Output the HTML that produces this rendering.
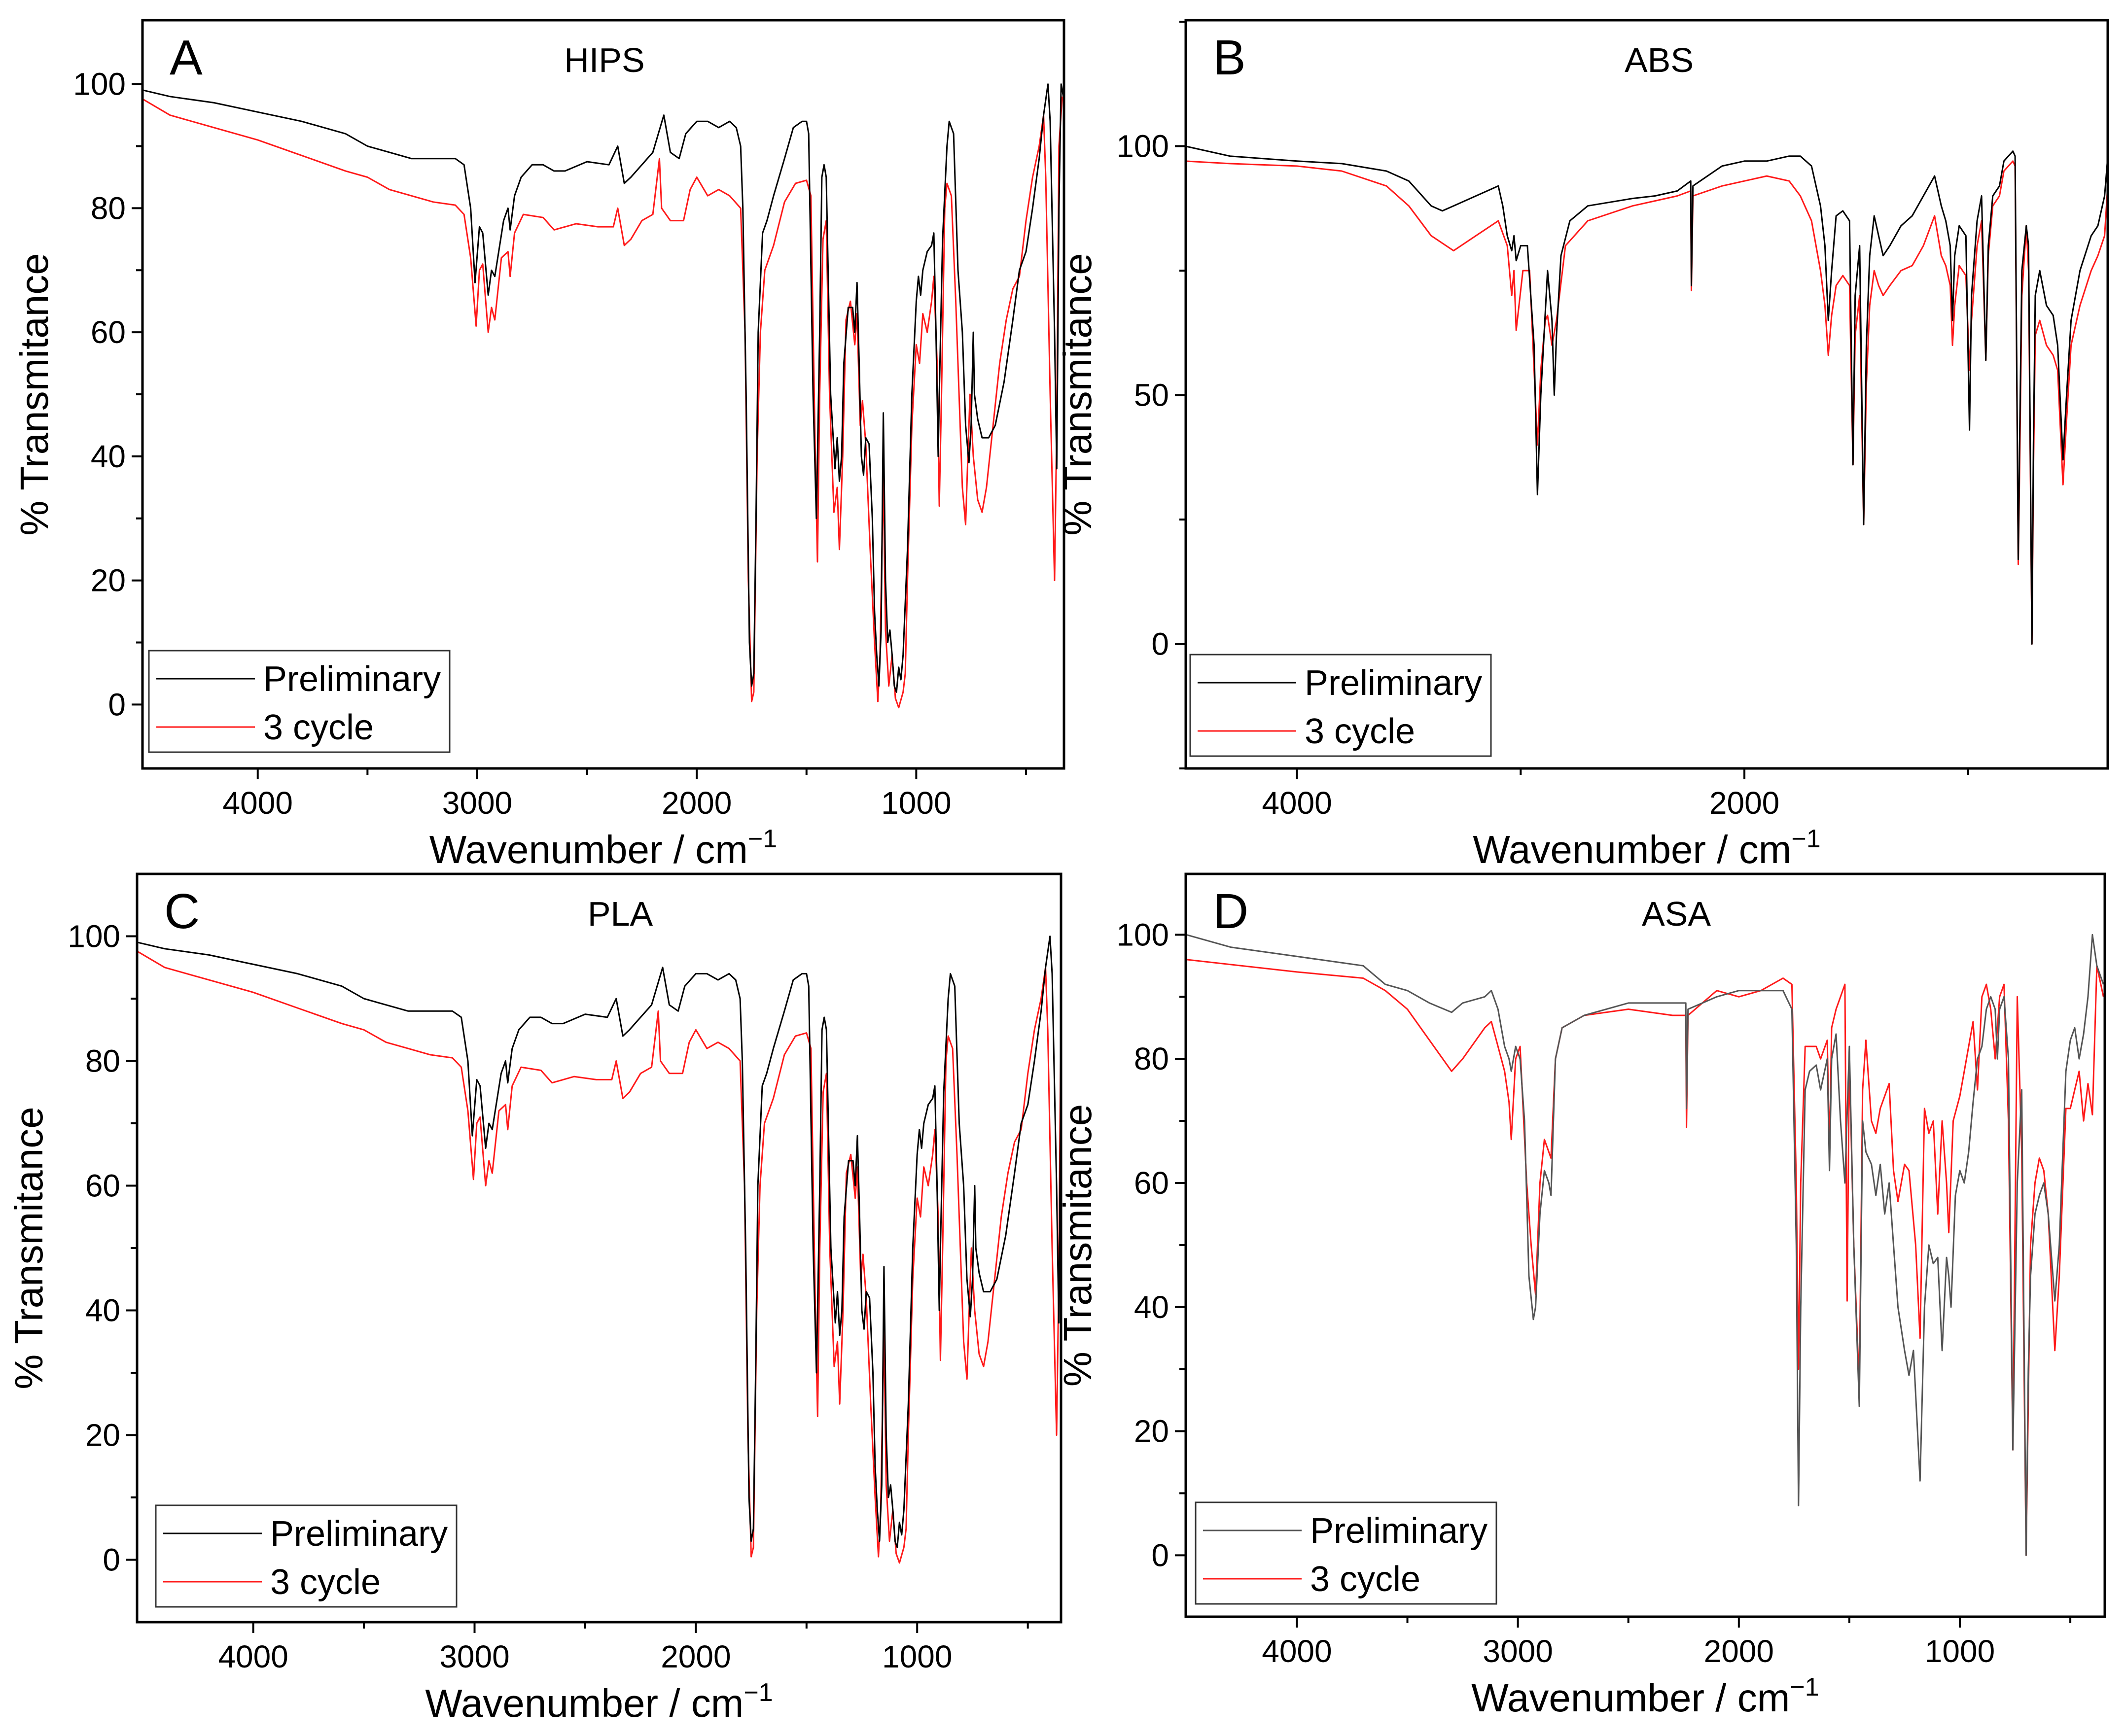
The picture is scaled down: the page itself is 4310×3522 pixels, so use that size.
<!DOCTYPE html>
<html><head><meta charset="utf-8"><style>
html,body{margin:0;padding:0;background:#fff}
svg{display:block}
text{font-family:"Liberation Sans",sans-serif;fill:#000}
</style></head><body>
<svg id="fig" width="4310" height="3522" viewBox="0 0 4310 3522" xmlns="http://www.w3.org/2000/svg"></svg>
<script>
// ---- data: [wavenumber, %T] ----
const hipsPrelim=[[4520,99],[4400,98],[4200,97],[4000,95.5],[3800,94],[3600,92],[3500,90],[3400,89],[3300,88],[3200,88],[3100,88],[3060,87],[3030,80],[3010,68],[2990,77],[2975,76],[2950,66],[2935,70],[2920,69],[2880,78],[2860,80],[2850,76.5],[2830,82],[2800,85],[2750,87],[2700,87],[2650,86],[2600,86],[2500,87.5],[2400,87],[2360,90],[2330,84],[2300,85],[2250,87],[2200,89],[2150,95],[2120,89],[2080,88],[2050,92],[2000,94],[1950,94],[1900,93],[1850,94],[1820,93],[1800,90],[1790,80],[1775,50],[1760,10],[1750,3],[1740,5],[1730,30],[1720,60],[1700,76],[1680,78],[1650,82],[1600,88],[1560,93],[1520,94],[1500,94],[1490,92],[1470,50],[1455,30],[1440,60],[1430,85],[1420,87],[1410,85],[1390,50],[1380,44],[1370,38],[1360,43],[1350,36],[1340,40],[1330,55],[1310,64],[1290,64],[1280,60],[1270,68],[1260,55],[1250,40],[1240,37],[1230,43],[1215,42],[1200,30],[1190,15],[1180,8],[1170,3],[1160,12],[1150,47],[1140,20],[1130,10],[1120,12],[1110,8],[1100,3],[1090,2],[1080,6],[1070,4],[1060,8],[1040,25],[1020,50],[1000,65],[990,69],[980,66],[970,70],[950,73],[930,74],[920,76],[910,60],[900,40],[895,50],[880,75],[860,90],[850,94],[830,92],[810,70],[790,60],[775,45],[760,39],[750,45],[740,60],[735,50],[720,46],[700,43],[670,43],[640,45],[600,52],[560,62],[530,70],[500,73],[470,80],[440,88],[420,95],[400,100],[390,94],[370,60],[360,38],[350,80],[340,100],[330,98]];
const hipsCycle=[[4520,97.5],[4400,95],[4200,93],[4000,91],[3800,88.5],[3600,86],[3500,85],[3400,83],[3300,82],[3200,81],[3100,80.5],[3060,79],[3030,72],[3005,61],[2990,70],[2975,71],[2950,60],[2935,64],[2920,62],[2890,72],[2860,73],[2850,69],[2830,76],[2790,79],[2700,78.5],[2650,76.5],[2550,77.5],[2450,77],[2380,77],[2360,80],[2330,74],[2300,75],[2250,78],[2200,79],[2170,88],[2160,80],[2120,78],[2060,78],[2030,83],[2000,85],[1950,82],[1900,83],[1850,82],[1800,80],[1780,60],[1765,20],[1750,0.5],[1740,2],[1725,40],[1710,60],[1690,70],[1650,74],[1600,81],[1550,84],[1500,84.5],[1480,82],[1460,40],[1450,23],[1440,50],[1425,75],[1410,78],[1395,50],[1375,31],[1360,35],[1350,25],[1335,40],[1320,62],[1300,65],[1280,58],[1270,63],[1255,45],[1245,49],[1230,42],[1210,25],[1190,10],[1175,0.5],[1165,8],[1150,37],[1140,12],[1125,3],[1110,8],[1095,1],[1080,-0.5],[1060,2],[1050,5],[1040,20],[1020,45],[1000,58],[985,55],[970,63],[950,60],[930,65],[920,69],[905,55],[895,32],[885,50],[870,80],[860,84],[840,82],[820,65],[800,45],[790,35],[775,29],[765,40],[755,50],[740,40],[720,33],[700,31],[680,35],[650,45],[620,55],[590,62],[560,67],[530,69],[500,78],[470,85],[440,90],[420,95],[410,85],[390,50],[370,20],[360,45],[350,90],[335,98]];
const absPrelim=[[4500,100],[4300,98],[4000,97],[3800,96.5],[3600,95],[3500,93],[3400,88],[3350,87],[3300,88],[3200,90],[3100,92],[3080,88],[3060,82],[3040,79],[3030,82],[3020,77],[3000,80],[2970,80],[2940,60],[2925,30],[2910,50],[2880,75],[2860,65],[2850,50],[2840,62],[2820,78],[2780,85],[2700,88],[2500,89.5],[2400,90],[2300,91],[2240,93],[2237,72],[2230,92],[2100,96],[2000,97],[1900,97],[1800,98],[1750,98],[1700,96],[1660,88],[1640,80],[1625,65],[1610,75],[1590,86],[1560,87],[1530,85],[1515,36],[1505,70],[1485,80],[1467,24],[1455,60],[1440,78],[1420,86],[1400,82],[1380,78],[1350,80],[1300,84],[1250,86],[1200,90],[1150,94],[1120,88],[1100,85],[1080,80],[1070,65],[1060,78],[1040,84],[1010,82],[994,43],[985,70],[960,85],[940,90],[921,57],[910,80],[890,90],[860,92],[840,97],[800,99],[790,98],[776,17],[770,40],[760,75],[740,84],[730,80],[715,0],[708,40],[700,70],[680,75],[650,68],[620,66],[600,60],[576,37],[560,50],[540,65],[500,75],[450,82],[420,84],[390,90],[372,100]];
const absCycle=[[4500,97],[4300,96.5],[4000,96],[3800,95],[3600,92],[3500,88],[3400,82],[3300,79],[3200,82],[3100,85],[3060,80],[3040,70],[3030,75],[3020,63],[2990,75],[2960,75],[2940,55],[2925,40],[2910,55],[2890,65],[2880,66],[2860,60],[2840,65],[2800,80],[2700,85],[2500,88],[2400,89],[2300,90],[2240,91],[2237,71],[2230,90],[2100,92],[2000,93],[1900,94],[1800,93],[1750,90],[1700,85],[1660,75],[1640,68],[1625,58],[1610,66],[1590,72],[1560,74],[1530,72],[1515,36],[1505,62],[1485,70],[1467,24],[1455,52],[1440,68],[1420,75],[1400,72],[1380,70],[1350,72],[1300,75],[1250,76],[1200,80],[1150,86],[1120,78],[1100,76],[1080,72],[1070,60],[1060,68],[1040,76],[1010,74],[994,55],[985,65],[960,80],[940,85],[921,57],[910,78],[890,88],[860,90],[840,95],[800,97],[790,96],[776,16],[770,35],[760,70],[740,84],[730,75],[715,0],[708,35],[700,62],[680,65],[650,60],[620,58],[600,55],[576,32],[560,45],[540,60],[500,68],[450,75],[420,78],[390,82],[372,95]];
const asaPrelim=[[4500,100],[4300,98],[4000,96.5],[3800,95.5],[3700,95],[3600,92],[3500,91],[3400,89],[3300,87.5],[3250,89],[3150,90],[3120,91],[3090,88],[3060,82],[3040,80],[3030,78],[3010,82],[2990,80],[2970,70],[2950,45],[2930,38],[2920,40],[2900,55],[2880,62],[2860,60],[2850,58],[2830,80],[2800,85],[2700,87],[2500,89],[2300,89],[2240,89],[2237,72],[2230,88],[2100,90],[2000,91],[1900,91],[1800,91],[1760,88],[1740,50],[1730,8],[1720,40],[1700,75],[1680,78],[1650,79],[1630,75],[1600,80],[1590,62],[1580,80],[1560,84],[1540,70],[1520,60],[1500,82],[1480,50],[1455,24],[1440,70],[1425,65],[1400,63],[1380,58],[1360,63],[1340,55],[1320,60],[1300,50],[1280,40],[1250,33],[1230,29],[1210,33],[1180,12],[1160,40],[1140,50],[1120,47],[1100,48],[1080,33],[1060,48],[1050,45],[1040,40],[1020,58],[1000,62],[980,60],[960,65],[940,73],[920,80],[900,82],[880,88],[860,90],[840,88],[830,80],[820,88],[800,90],[780,80],[760,17],[740,60],[720,75],[700,0],[690,30],[680,45],[660,55],[640,58],[620,60],[600,55],[570,41],[550,50],[520,78],[500,83],[480,85],[460,80],[440,84],[420,90],[400,100],[380,95],[350,92]];
const asaCycle=[[4500,96],[4000,94],[3700,93],[3600,91],[3500,88],[3400,83],[3300,78],[3250,80],[3150,85],[3120,86],[3090,82],[3060,78],[3040,73],[3030,67],[3010,80],[2990,82],[2960,60],[2940,50],[2920,42],[2900,60],[2880,67],[2850,64],[2830,80],[2800,85],[2700,87],[2500,88],[2300,87],[2240,87],[2237,69],[2230,87],[2100,91],[2000,90],[1900,91],[1800,93],[1760,92],[1740,60],[1730,30],[1720,60],[1700,82],[1680,82],[1650,82],[1630,80],[1600,83],[1590,65],[1580,85],[1560,88],[1540,90],[1520,92],[1510,41],[1500,80],[1480,50],[1455,27],[1440,75],[1425,83],[1400,70],[1380,68],[1360,72],[1340,74],[1320,76],[1300,62],[1280,57],[1250,63],[1230,62],[1200,50],[1180,35],[1160,72],[1140,68],[1120,70],[1100,55],[1080,70],[1060,60],[1050,52],[1030,70],[1000,74],[980,78],[960,82],[940,86],[920,75],[900,90],[880,92],[860,88],[840,80],[820,90],[800,92],[780,70],[760,17],[740,90],[720,65],[700,0],[690,25],[680,50],[660,60],[640,64],[620,62],[600,55],[570,33],[550,45],[520,72],[500,72],[480,75],[460,78],[440,70],[420,76],[400,71],[380,95],[350,90]];
const xTicksAC=[4000,3000,2000,1000];
const xMinorAC=[3500,2500,1500,500];
const xTicksB=[4000,2000];
const xMinorB=[3000,1000];
const yTicks100=[0,20,40,60,80,100];
const yMinor100=[10,30,50,70,90];
const yTicksB=[0,50,100];
const yMinorB=[-25,25,75,125];

const NS="http://www.w3.org/2000/svg";
const svg=document.getElementById('fig');
function mk(tag,attrs,parent){const e=document.createElementNS(NS,tag);for(const k in attrs)e.setAttribute(k,attrs[k]);(parent||svg).appendChild(e);return e;}

function panel(o){
  const g=mk('g',{});
  
  
  const sx=w=>o.x0+(o.xmin-w)/(o.xmin-o.xmax)*(o.x1-o.x0);
  const sy=v=>o.y1-(v-o.ymin)/(o.ymax-o.ymin)*(o.y1-o.y0);
  const cid='clip'+o.key;
  const cp=mk('clipPath',{id:cid},g);mk('rect',{x:o.x0,y:o.y0,width:o.x1-o.x0,height:o.y1-o.y0},cp);
  const series=[[o.s1,o.c1,'preliminary'],[o.s2,'#ff1a1a','3-cycle']];
  for(const [d,c,n] of series.slice().reverse()){
    const p=mk('polyline',{points:d.map(q=>sx(q[0]).toFixed(1)+','+sy(q[1]).toFixed(1)).join(' '),fill:'none',stroke:c,'stroke-width':3,'stroke-linejoin':'round','clip-path':'url(#'+cid+')'},g);
    
    
  }
  const fr=mk('rect',{x:o.x0,y:o.y0,width:o.x1-o.x0,height:o.y1-o.y0,fill:'none',stroke:'#000','stroke-width':5},g);
  
  
  for(const t of o.xt){const X=sx(t);mk('line',{x1:X,x2:X,y1:o.y1,y2:o.y1+22,stroke:'#000','stroke-width':4},g);
    const tx=mk('text',{x:X,y:o.y1+92,'font-size':64,'text-anchor':'middle'},g);tx.textContent=t;
    
    }
  for(const t of o.xm){const X=sx(t);mk('line',{x1:X,x2:X,y1:o.y1,y2:o.y1+13,stroke:'#000','stroke-width':4},g);}
  for(const t of o.yt){const Y=sy(t);mk('line',{x1:o.x0-22,x2:o.x0,y1:Y,y2:Y,stroke:'#000','stroke-width':4},g);
    const tx=mk('text',{x:o.x0-34,y:Y+22,'font-size':64,'text-anchor':'end'},g);tx.textContent=t;
    
    }
  for(const t of o.ym){if(t<o.ymin||t>o.ymax)continue;const Y=sy(t);mk('line',{x1:o.x0-13,x2:o.x0,y1:Y,y2:Y,stroke:'#000','stroke-width':4},g);}
  const xt=mk('text',{x:(o.x0+o.x1)/2,y:o.y1+192,'font-size':80,'text-anchor':'middle'},g);
  xt.innerHTML='Wavenumber / cm<tspan dy="-32" font-size="52">−1</tspan>';
  
  
  const yc=(o.y0+o.y1)/2;
  const yt=mk('text',{x:0,y:0,'font-size':80,'text-anchor':'middle',transform:'translate('+(o.x0-192)+','+yc+') rotate(-90)'},g);
  yt.textContent='% Transmitance';
  
  
  const lt=mk('text',{x:o.x0+55,y:o.y0+110,'font-size':100},g);lt.textContent=o.key;
  
  
  const ti=mk('text',{x:o.tx,y:o.y0+105,'font-size':70,'text-anchor':'middle'},g);ti.textContent=o.title;
  
  
  const L=mk('g',{},g);
  
  
  mk('rect',{x:o.lx,y:o.ly,width:610,height:206,fill:'#fff',stroke:'#333','stroke-width':3},L);
  mk('line',{x1:o.lx+15,x2:o.lx+215,y1:o.ly+57,y2:o.ly+57,stroke:o.c1,'stroke-width':3},L);
  mk('line',{x1:o.lx+15,x2:o.lx+215,y1:o.ly+155,y2:o.ly+155,stroke:'#ff1a1a','stroke-width':3},L);
  const a=mk('text',{x:o.lx+232,y:o.ly+82,'font-size':72},L);a.textContent='Preliminary';
  
  
  const b=mk('text',{x:o.lx+232,y:o.ly+180,'font-size':72},L);b.textContent='3 cycle';
  
  
}
panel({key:'A',title:'HIPS',tx:1226,x0:289,x1:2158,y0:41,y1:1559,xmin:4525,xmax:327,ymin:-10.3,ymax:110.3,s1:hipsPrelim,s2:hipsCycle,c1:'#000',xt:xTicksAC,xm:xMinorAC,yt:yTicks100,ym:yMinor100,lx:302,ly:1320});
panel({key:'B',title:'ABS',tx:3365,x0:2405,x1:4275,y0:41,y1:1559,xmin:4497,xmax:376,ymin:-25,ymax:125.3,s1:absPrelim,s2:absCycle,c1:'#000',xt:xTicksB,xm:xMinorB,yt:yTicksB,ym:yMinorB,lx:2414,ly:1328});
panel({key:'C',title:'PLA',tx:1258,x0:278,x1:2152,y0:1773,y1:3291,xmin:4525,xmax:350,ymin:-10,ymax:110,s1:hipsPrelim,s2:hipsCycle,c1:'#000',xt:xTicksAC,xm:xMinorAC,yt:yTicks100,ym:yMinor100,lx:316,ly:3054});
panel({key:'D',title:'ASA',tx:3400,x0:2405,x1:4269,y0:1773,y1:3280,xmin:4503,xmax:344,ymin:-9.9,ymax:109.8,s1:asaPrelim,s2:asaCycle,c1:'#555',xt:xTicksAC,xm:xMinorAC,yt:yTicks100,ym:yMinor100,lx:2425,ly:3048});
</script>
</body></html>
